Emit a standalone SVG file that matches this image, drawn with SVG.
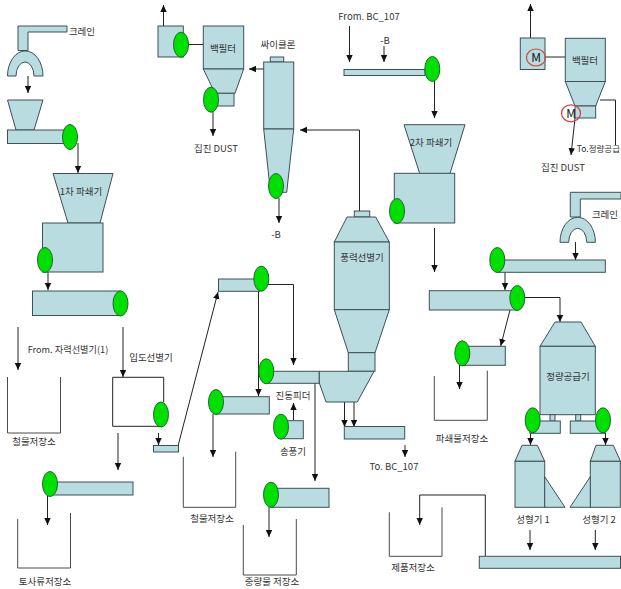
<svg xmlns="http://www.w3.org/2000/svg" width="621" height="589" viewBox="0 0 621 589">
<style>
.e{fill:#b8dce0;stroke:#3e5056;stroke-width:1}
.g{fill:#00e000;stroke:#1c6a2a;stroke-width:1}
.m{fill:none;stroke:#d8403c;stroke-width:1.2}
.u{fill:none;stroke:#4a4a4a;stroke-width:1}
text{font-family:"Noto Sans CJK KR","Liberation Sans",sans-serif;font-size:9.5px;fill:#333;text-anchor:middle}
.k{font-size:12px;fill:#111}
</style>
<defs>
<marker id="a" markerWidth="7" markerHeight="9" refX="7" refY="3.5" orient="auto" markerUnits="userSpaceOnUse"><path d="M0,0.300L7,3.500L0,6.700Z" fill="#111"/></marker>
</defs>
<g id="connectors" style="fill:none;stroke:#222;stroke-width:1" marker-end="url(#a)">
<path d="M28 76V93"/>
<path d="M78 143V173"/>
<path d="M48 272V290"/>
<path d="M18 327V370"/>
<path d="M123 327V377"/>
<path d="M158.500 433V445"/>
<path d="M178 446L218 292"/>
<path d="M118 433V470"/>
<path d="M47.500 495V525"/>
<path d="M268 284.500H293.500V365"/>
<path d="M258.500 291V396"/>
<path d="M213 414V457"/>
<path d="M293.500 420V403"/>
<path d="M269 507V537"/>
<path d="M315 383V481"/>
<path d="M344.500 402V427"/>
<path d="M354 402V427"/>
<path d="M405 445V457"/>
<path d="M359.500 211V130H300"/>
<path d="M279 198V223"/>
<path d="M263.700 69H249"/>
<path d="M213 112V136"/>
<path d="M163.500 26V5"/>
<path d="M349.500 26V62"/>
<path d="M384 46V62"/>
<path d="M434.500 81V118"/>
<path d="M434.500 228V272"/>
<path d="M530.500 38V4"/>
<path d="M575 118L571 155"/>
<path d="M575.500 242V260"/>
<path d="M505 272V290"/>
<path d="M525 297.500H560V322"/>
<path d="M510 310L500.700 346"/>
<path d="M459.500 365V389"/>
<path d="M530.500 433V445"/>
<path d="M605.500 433V445"/>
<path d="M530 530V550"/>
<path d="M595.300 530V550"/>
<path d="M485.300 556V495H419.700V525"/>
<path d="M188 44.500H203.500" marker-end="none"/>
<path d="M545 57H565.300" marker-end="none"/>
<path d="M600 100H615.500V145" marker-end="none"/>
</g>
<g id="crane-1"><path class="e" d="M18 26H67V32H28V50.500H18Z"/><path class="e" d="M7.500 76A17.700 25 0 0 1 43 76H34A9 14 0 0 0 16 76Z"/><text x="82" y="35">크레인</text></g>
<g id="feeder-1"><path class="e" d="M7.500 100H43L34 130H16Z"/><rect class="e" x="7.500" y="130" width="63" height="13.500"/><ellipse class="g" cx="70" cy="137" rx="7.500" ry="12.500"/></g>
<g id="crusher-1"><path class="e" d="M53 173.500H113L100 223H68Z"/><rect class="e" x="42.500" y="223" width="60.500" height="49"/><ellipse class="g" cx="45" cy="260" rx="7.500" ry="12.500"/><text x="81" y="195">1차 파쇄기</text></g>
<g id="belt-1"><rect class="e" x="32.500" y="291" width="88" height="24.500"/><ellipse class="g" cx="120.500" cy="303.500" rx="7.500" ry="12.500"/></g>
<g id="iron-store-1"><path class="u" d="M7.500 377V433H60.500V377"/><text x="34" y="445">철물저장소</text><text x="68" y="353" style="font-size:9.200px">From. 자력선별기(1)</text></g>
<g id="sieve"><path style="fill:#fff;stroke:#222" d="M163.700 402V377.300H112.700V426.300H161"/><ellipse class="g" cx="161" cy="414.500" rx="7.500" ry="12.500"/><text x="151" y="361">입도선별기</text></g>
<g id="small-belt"><rect class="e" x="153.500" y="445.500" width="25" height="6.500"/></g>
<g id="soil-belt"><rect class="e" x="50" y="482" width="83" height="13"/><ellipse class="g" cx="50" cy="484" rx="7.500" ry="12.500"/></g>
<g id="soil-store"><path class="u" d="M17.700 519V568H70.500V513"/><text x="45" y="585">토사류저장소</text></g>
<g id="belt-top"><rect class="e" x="218.500" y="279" width="41" height="12.300"/><ellipse class="g" cx="261.300" cy="278.700" rx="7.500" ry="12.500"/></g>
<g id="vibro-feeder"><rect class="e" x="266" y="371.300" width="53.300" height="12"/><ellipse class="g" cx="266.300" cy="371.300" rx="7.500" ry="12.500"/><text x="293" y="399">진동피더</text></g>
<g id="iron-belt"><rect class="e" x="216" y="396.700" width="53.300" height="17.300"/><ellipse class="g" cx="216" cy="402" rx="7.500" ry="12.500"/></g>
<g id="iron-store-2"><path class="u" d="M183.300 456.700V507.300H235.700V451.700"/><text x="212" y="522">철물저장소</text></g>
<g id="blower"><rect class="e" x="281" y="420.700" width="22.300" height="18"/><ellipse class="g" cx="281" cy="426.700" rx="7.500" ry="12.500"/><text x="293" y="455">송풍기</text></g>
<g id="heavy-belt"><rect class="e" x="271" y="488.300" width="58" height="19"/><ellipse class="g" cx="271" cy="494.700" rx="7.500" ry="12.500"/></g>
<g id="heavy-store"><path class="u" d="M243.300 525V575H296.300V519"/><text x="272" y="585">중량물 저장소</text></g>
<g id="wind-separator"><rect class="e" x="354.300" y="211" width="15.400" height="6"/><path class="e" d="M347 217H375.700L389.300 242H334.300Z"/><rect class="e" x="334.300" y="242" width="55" height="67.700"/><path class="e" d="M334.300 309.700H389.300L375 352.700H348.300Z"/><rect class="e" x="348.300" y="352.700" width="26.700" height="18.600"/><path class="e" d="M319.300 371.300H374L357.300 402H326L319.300 383Z"/><text x="362" y="261">풍력선별기</text></g>
<g id="bc-belt"><rect class="e" x="344.300" y="426.500" width="60.400" height="12.500"/><text x="394" y="470">To. BC_107</text></g>
<g id="cyclone"><rect class="e" x="270.300" y="57" width="13.400" height="5"/><rect class="e" x="263.700" y="62" width="30" height="67"/><path class="e" d="M263.700 129H293.700L286.700 192.300H270.500Z"/><ellipse class="g" cx="276" cy="186" rx="7.500" ry="12.500"/><text x="278" y="48">싸이클론</text><text x="276" y="238">-B</text></g>
<g id="bag-filter-1"><rect class="e" x="203.300" y="26" width="40.400" height="43"/><path class="e" d="M203.300 69H243.700L235 93.300H215Z"/><rect class="e" x="215" y="93.300" width="19" height="12.700"/><ellipse class="g" cx="211" cy="99.700" rx="7.500" ry="12.500"/><text x="223" y="52">백필터</text><text x="216" y="152">집진 DUST</text></g>
<g id="fan-1"><rect class="e" x="158" y="26" width="25.300" height="31"/><ellipse class="g" cx="181" cy="44.700" rx="7.500" ry="12.500"/></g>
<g id="bc-in-belt"><rect class="e" x="344" y="69.500" width="81" height="6"/><ellipse class="g" cx="432.300" cy="69" rx="7.500" ry="12.500"/><text x="369" y="20">From. BC_107</text><text x="385" y="44">-B</text></g>
<g id="crusher-2"><path class="e" d="M404 124.700H465L450 173.500H419.700Z"/><rect class="e" x="394.300" y="173.300" width="60.400" height="49.700"/><ellipse class="g" cx="397" cy="211" rx="7.500" ry="12.500"/><text x="431" y="146">2차 파쇄기</text></g>
<g id="fan-2"><rect class="e" x="520.300" y="38" width="24.700" height="31.500"/><ellipse class="m" cx="536" cy="57.500" rx="9.500" ry="8.500"/><text class="k" x="536" y="62">M</text></g>
<g id="bag-filter-2"><rect class="e" x="565.300" y="38.300" width="40" height="43.200"/><path class="e" d="M565.300 81.500H605.300L595.700 106H575Z"/><rect class="e" x="575" y="106" width="20.700" height="12"/><ellipse class="m" cx="571" cy="113.300" rx="9.500" ry="8.500"/><text class="k" x="571" y="118">M</text><text x="585" y="64">백필터</text><text x="563" y="171">집진 DUST</text><text x="620" y="152" style="text-anchor:end;font-size:8.500px">To.정량공급</text></g>
<g id="crane-2"><path class="e" d="M570.300 192.300H621V199H580.300V217H570.300Z"/><path class="e" d="M560 242.300A17.700 25 0 0 1 595.400 242.300H586.700A9 14 0 0 0 568.700 242.300Z"/><text x="605" y="218">크레인</text></g>
<g id="belt-2"><rect class="e" x="497.300" y="260" width="108" height="12.300"/><ellipse class="g" cx="497.300" cy="260" rx="7.500" ry="12.500"/></g>
<g id="belt-3"><rect class="e" x="429.300" y="290.700" width="88" height="19.300"/><ellipse class="g" cx="517.300" cy="298" rx="7.500" ry="12.500"/></g>
<g id="belt-4"><rect class="e" x="462.300" y="346.300" width="43" height="19"/><ellipse class="g" cx="462.300" cy="353.300" rx="7.500" ry="12.500"/></g>
<g id="crush-store"><path class="u" d="M434.300 376V420.300H487.300V370.700"/><text x="462" y="442">파쇄물저장소</text></g>
<g id="metering-feeder"><path class="e" d="M555 322H581L595.300 346.300H540Z"/><rect class="e" x="540" y="346.300" width="55.300" height="68.400"/><text x="568" y="380">정량공급기</text><rect class="e" x="550" y="414.700" width="5" height="6.300"/><rect class="e" x="575.700" y="414.700" width="5" height="6.300"/><rect class="e" x="530" y="421" width="30.300" height="12.300"/><rect class="e" x="570.300" y="421" width="34.700" height="12.300"/><ellipse class="g" cx="532.700" cy="420.300" rx="7.500" ry="12.500"/><ellipse class="g" cx="603" cy="420.300" rx="7.500" ry="12.500"/></g>
<g id="molder-1"><path class="e" d="M522 445.300H537.300L544.700 461.300H515Z"/><rect class="e" x="515" y="461.300" width="29.700" height="46"/><path class="e" d="M544.700 476.700L565 507.300H544.700Z"/><text x="533" y="523">성형기 1</text></g>
<g id="molder-2"><path class="e" d="M596 445.300H613.300L620.500 461.300H590.300Z"/><rect class="e" x="590.300" y="461.300" width="30" height="46"/><path class="e" d="M590.300 476.700L570 507.300H590.300Z"/><text x="599" y="523">성형기 2</text></g>
<g id="product-belt"><rect class="e" x="479.300" y="556.300" width="141.200" height="12"/></g>
<g id="product-store"><path class="u" d="M389.300 512.300V556.300H442V507.300"/><text x="413" y="571">제품저장소</text></g>
</svg>
